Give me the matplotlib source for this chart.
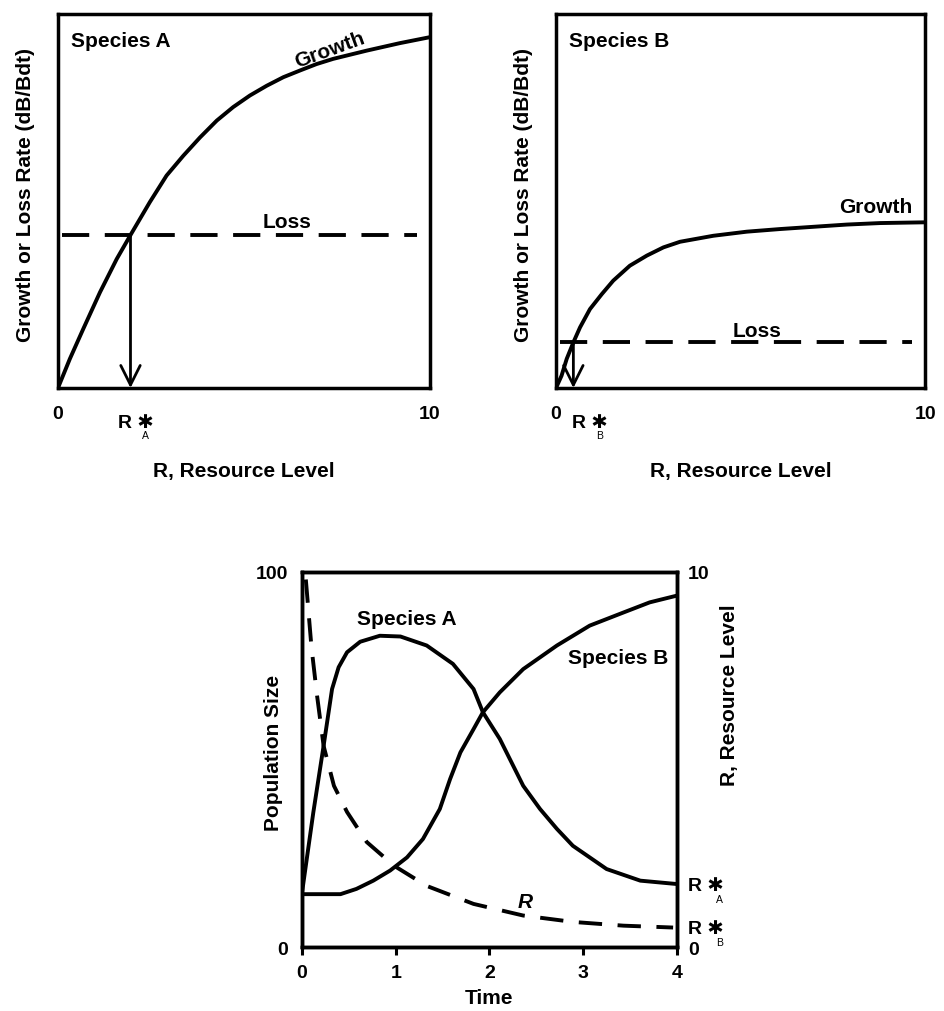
import matplotlib
matplotlib.use("Agg")
import matplotlib.pyplot as plt

plt.rcParams["font.family"] = ["Liberation Sans", "DejaVu Sans"]
plt.rcParams["font.weight"] = "bold"
plt.rcParams["axes.labelweight"] = "bold"

STAR = "\u2731"

# species A: growth rate vs resource level
growth_a_r = [0.0, 0.32, 0.68, 1.13, 1.58, 1.95, 2.47, 2.92, 3.37, 3.82, 4.27, 4.71,
              5.16, 5.61, 6.06, 6.51, 6.95, 7.4, 8.3, 9.19, 10.0]
growth_a = [0.0, 0.78, 1.58, 2.56, 3.45, 4.09, 4.97, 5.68, 6.21, 6.70, 7.15, 7.51,
            7.82, 8.08, 8.31, 8.49, 8.66, 8.8, 9.02, 9.22, 9.38]
loss_a = 4.09
rstar_a = 1.95

# species B: growth rate vs resource level
growth_b_r = [0.0, 0.15, 0.29, 0.47, 0.65, 0.92, 1.24, 1.55, 2.0, 2.46, 2.91, 3.36,
              4.26, 5.17, 6.07, 6.97, 7.88, 8.78, 10.0]
growth_b = [0.0, 0.33, 0.78, 1.22, 1.62, 2.11, 2.51, 2.87, 3.27, 3.54, 3.76, 3.91,
            4.07, 4.18, 4.25, 4.31, 4.37, 4.41, 4.43]
loss_b = 1.22
rstar_b = 0.47

# competition through time
time_a = [0.0, 0.12, 0.23, 0.32, 0.39, 0.48, 0.62, 0.83, 1.05, 1.33, 1.61, 1.83, 1.93,
          2.11, 2.36, 2.54, 2.72, 2.89, 3.25, 3.61, 4.0]
pop_a = [14.6, 35.9, 53.7, 68.8, 74.6, 78.6, 81.4, 83, 82.8, 80.4, 75.5, 68.8, 62.6,
         55.5, 43, 36.8, 31.5, 27, 20.8, 17.7, 16.8]
time_b = [0.0, 0.41, 0.58, 0.76, 0.94, 1.12, 1.29, 1.47, 1.58, 1.69, 1.83, 1.93, 2.11,
          2.36, 2.72, 3.07, 3.43, 3.71, 4.0]
pop_b = [14.1, 14.1, 15.5, 17.7, 20.4, 23.9, 28.8, 36.8, 44.8, 51.9, 58.1, 62.6, 67.9,
         74.1, 80.4, 85.7, 89.2, 91.9, 93.7]
time_r = [0.04, 0.07, 0.1, 0.16, 0.23, 0.34, 0.48, 0.69, 0.98, 1.33, 1.83, 2.36, 2.89,
          3.43, 3.96]
resource = [9.8, 8.9, 8.0, 6.7, 5.36, 4.3, 3.6, 2.8, 2.17, 1.63, 1.15, 0.84, 0.67,
            0.57, 0.52]
rstar_a_level = 1.7
rstar_b_level = 0.55

FS = 15
TS = 14
LW = 2.8


def style_spines(ax, lw=2.5):
    for s in ax.spines.values():
        s.set_linewidth(lw)


def rate_panel(ax, r, growth, loss, rstar, name, sub, growth_pos, growth_rot,
               loss_pos, rlabel_dx):
    ax.plot(r, growth, color="black", lw=LW, solid_joinstyle="round")
    ax.axhline(loss, xmin=0.01, xmax=0.965, color="black", lw=LW, dashes=(7, 4))
    ax.annotate("", xy=(rstar, 0), xytext=(rstar, loss),
                arrowprops=dict(arrowstyle="->,head_length=0.7,head_width=0.35",
                                lw=2.0, color="black", shrinkA=0, shrinkB=0,
                                mutation_scale=20))
    ax.set_xlim(0, 10)
    ax.set_ylim(0, 10)
    ax.set_xticks([0, 10], ["0", "10"])
    ax.set_yticks([])
    ax.tick_params(axis="x", length=0, pad=12, labelsize=TS)
    style_spines(ax)
    ax.text(0.035, 0.955, name, transform=ax.transAxes, fontsize=FS, va="top")
    ax.text(*growth_pos, "Growth", fontsize=FS, rotation=growth_rot,
            ha="center", va="center")
    ax.text(*loss_pos, "Loss", fontsize=FS, ha="center", va="center")
    ax.annotate("R " + STAR, xy=(rstar, 0), xytext=(rlabel_dx, -25),
                textcoords="offset points", ha="center", va="center",
                fontsize=TS)
    ax.annotate(sub, xy=(rstar, 0), xytext=(rlabel_dx + 7, -34),
                textcoords="offset points", ha="center", va="center",
                fontsize=7.5, fontweight="normal")
    ax.set_xlabel("R, Resource Level", fontsize=FS, labelpad=28)
    ax.set_ylabel("Growth or Loss Rate (dB/Bdt)", fontsize=FS)
    ax.yaxis.set_label_coords(-0.062, 0.52)


fig = plt.figure(figsize=(9.44, 10.12), dpi=100)

ax_a = fig.add_axes([0.0614, 0.6156, 0.394, 0.3696])
rate_panel(ax_a, growth_a_r, growth_a, loss_a, rstar_a, "Species A", "A",
           (7.3, 9.05), 20, (6.15, 4.45), 4)

ax_b = fig.add_axes([0.589, 0.6156, 0.391, 0.3696])
rate_panel(ax_b, growth_b_r, growth_b, loss_b, rstar_b, "Species B", "B",
           (8.65, 4.85), 0, (5.44, 1.55), 12)

# bottom panel: population size and resource through time
ax_c = fig.add_axes([0.320, 0.0632, 0.397, 0.3706])
ax_c.plot(time_a, pop_a, color="black", lw=LW, solid_joinstyle="round")
ax_c.plot(time_b, pop_b, color="black", lw=LW, solid_joinstyle="round")
ax_c.set_xlim(0, 4)
ax_c.set_ylim(0, 100)
ax_c.set_xticks([0, 1, 2, 3, 4])
ax_c.set_yticks([0, 100])
ax_c.tick_params(axis="x", length=6, width=2.2, pad=6, labelsize=TS)
ax_c.tick_params(axis="y", length=0, pad=10, labelsize=TS)
style_spines(ax_c)
ax_c.set_xlabel("Time", fontsize=FS, labelpad=5)
ax_c.set_ylabel("Population Size", fontsize=FS)
ax_c.yaxis.set_label_coords(-0.05, 0.52)
ax_c.text(1.12, 87.5, "Species A", fontsize=FS, ha="center", va="center")
ax_c.text(3.37, 77.3, "Species B", fontsize=FS, ha="center", va="center")

ax_r = ax_c.twinx()
ax_r.plot(time_r, resource, color="black", lw=LW, dashes=(6, 4))
ax_r.set_ylim(0, 10)
ax_r.set_yticks([0, rstar_b_level, rstar_a_level, 10],
                ["0", "R " + STAR, "R " + STAR, "10"])
ax_r.tick_params(axis="y", length=0, pad=8, labelsize=TS)
ax_r.set_ylabel("R, Resource Level", fontsize=FS)
ax_r.yaxis.set_label_coords(1.115, 0.675)
style_spines(ax_r)
ax_r.text(2.38, 0.95, "R", fontsize=FS, style="italic", ha="center", va="bottom")
for level, sub in [(rstar_a_level, "A"), (rstar_b_level, "B")]:
    ax_r.annotate(sub, xy=(1, level), xycoords=("axes fraction", "data"),
                  xytext=(31, -11), textcoords="offset points",
                  ha="center", va="center", fontsize=7.5, fontweight="normal")

fig.savefig("out.png", dpi=100)
